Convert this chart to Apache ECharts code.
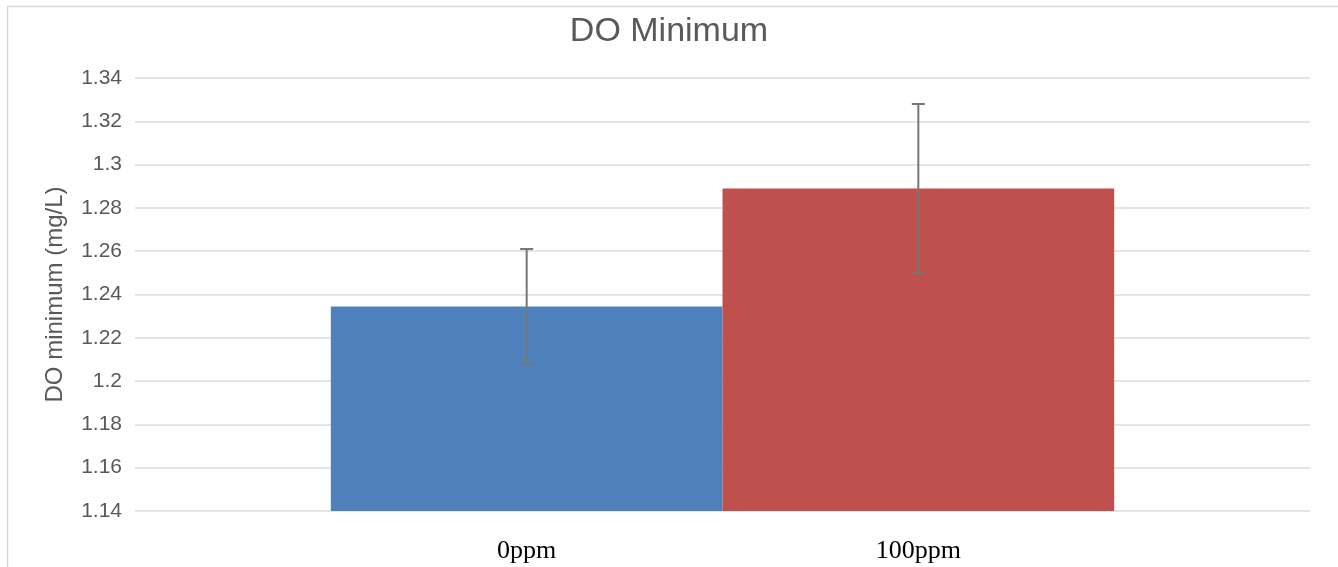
<!DOCTYPE html>
<html>
<head>
<meta charset="utf-8">
<script src="https://cdn.jsdelivr.net/npm/echarts@6/dist/echarts.min.js"></script>
<style>
  html, body { margin: 0; padding: 0; background: #ffffff; }
  #chart { width: 1338px; height: 567px; }
</style>
</head>
<body>
<div id="chart"></div>
<script>
// ---- data ----
const categoryLabels = ['0ppm', '100ppm'];
const seriesNames = ['0ppm', '100ppm'];
const meanValues = [1.2345, 1.289];
const errorValues = [0.0265, 0.039];
const yTicks = { min: 1.14, max: 1.34, step: 0.02 };
const barColors = ['#4f81bd', '#c0504d'];

const chart = echarts.init(document.getElementById('chart'), null, { renderer: 'canvas' });

const barSeries = seriesNames.map((name, i) => ({
  name: name,
  type: 'bar',
  xAxisIndex: 0,
  yAxisIndex: 0,
  data: [meanValues[i]],
  itemStyle: { color: barColors[i] },
  barGap: '0%',
  barCategoryGap: '33.33%',
  emphasis: { disabled: true }
}));

const errData = meanValues.map((m, i) => [i + 1, m - errorValues[i], m + errorValues[i]]);

const errorSeries = {
  type: 'custom',
  xAxisIndex: 1,
  yAxisIndex: 0,
  encode: { x: 0, y: [1, 2] },
  data: errData,
  z: 10,
  renderItem: function (params, api) {
    const x = api.value(0);
    const lo = api.coord([x, api.value(1)]);
    const hi = api.coord([x, api.value(2)]);
    const cap = 6.5;
    const style = { stroke: '#767676', lineWidth: 2 };
    return {
      type: 'group',
      children: [
        { type: 'line', shape: { x1: lo[0], y1: lo[1], x2: hi[0], y2: hi[1] }, style: style },
        { type: 'line', shape: { x1: hi[0] - cap, y1: hi[1], x2: hi[0] + cap, y2: hi[1] }, style: style },
        { type: 'line', shape: { x1: lo[0] - cap, y1: lo[1], x2: lo[0] + cap, y2: lo[1] }, style: style }
      ]
    };
  }
};

chart.setOption({
  animation: false,
  backgroundColor: '#ffffff',
  title: {
    text: 'DO Minimum',
    left: 'center',
    top: 15,
    padding: 0,
    textStyle: { fontFamily: 'Liberation Sans', fontSize: 34, fontWeight: 'normal', color: '#595959' }
  },
  graphic: [{
    type: 'rect',
    silent: true,
    shape: { x: 7.5, y: 6.5, width: 1400, height: 700 },
    style: { fill: 'none', stroke: '#d9d9d9', lineWidth: 1.5 }
  }],
  grid: { left: 135, right: 28, top: 78, bottom: 56, containLabel: false },
  xAxis: [
    {
      type: 'category',
      data: ['DO Minimum'],
      show: false
    },
    {
      type: 'value',
      min: 0,
      max: categoryLabels.length + 1,
      interval: 1,
      position: 'bottom',
      axisLine: { show: false },
      axisTick: { show: false },
      splitLine: { show: false },
      axisLabel: {
        margin: 27,
        fontFamily: 'Liberation Serif',
        fontSize: 26,
        color: '#000000',
        showMinLabel: true,
        showMaxLabel: true,
        formatter: function (v) { return categoryLabels[v - 1] || ''; }
      }
    }
  ],
  yAxis: {
    type: 'value',
    min: yTicks.min,
    max: yTicks.max,
    interval: yTicks.step,
    name: 'DO minimum (mg/L)',
    nameLocation: 'middle',
    nameGap: 68,
    nameTextStyle: { fontFamily: 'Liberation Sans', fontSize: 24, color: '#595959' },
    axisLine: { show: false },
    axisTick: { show: false },
    splitLine: { lineStyle: { color: '#dcdcdc', width: 1.5 } },
    axisLabel: {
      margin: 13,
      fontFamily: 'Liberation Sans',
      fontSize: 21,
      color: '#595959',
      formatter: function (v) { return String(+v.toFixed(2)); }
    }
  },
  series: barSeries.concat([errorSeries])
});
</script>
</body>
</html>
